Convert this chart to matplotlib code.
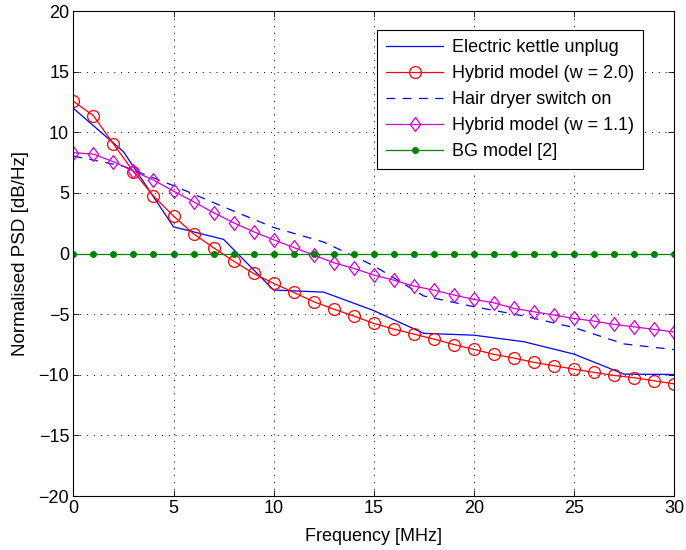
import numpy as np
import matplotlib
matplotlib.use("Agg")
import matplotlib.pyplot as plt
from matplotlib.path import Path

plt.rcParams['font.family'] = ['Liberation Sans', 'DejaVu Sans']

# Frequencies (MHz)
f_models = list(range(0, 31))
f_meas = [0, 2.5, 5, 7.5, 10, 12.5, 15, 17.5, 20, 22.5, 25, 27.5, 30]

kettle = [11.97, 8.4, 2.2, 1.17, -3.01, -3.18, -4.7, -6.58, -6.73, -7.27, -8.29, -9.94, -9.97]
hair_dryer = [8.04, 7.2, 5.6, 3.85, 2.15, 0.95, -1.0, -3.5, -4.38, -5.15, -6.1, -7.45, -7.92]

hybrid_w20 = [12.55, 11.37, 9.03, 6.75, 4.74, 3.09, 1.63, 0.48, -0.62, -1.64,
              -2.46, -3.2, -3.97, -4.58, -5.15, -5.76, -6.23, -6.64, -7.05, -7.5,
              -7.9, -8.31, -8.62, -8.97, -9.25, -9.53, -9.8, -10.05, -10.24, -10.49, -10.74]
hybrid_w11 = [8.32, 8.2, 7.57, 6.8, 6.06, 5.15, 4.27, 3.37, 2.54, 1.8,
              1.14, 0.5, -0.12, -0.76, -1.22, -1.77, -2.19, -2.68, -3.01, -3.42,
              -3.78, -4.06, -4.52, -4.8, -5.07, -5.35, -5.57, -5.84, -6.04, -6.25, -6.47]
bg_model = [0.0] * 31

xticks = [0, 5, 10, 15, 20, 25, 30]
yticks = [-20, -15, -10, -5, 0, 5, 10, 15, 20]

diamond = Path([(0, 1), (0.75, 0), (0, -1), (-0.75, 0), (0, 1)],
               [Path.MOVETO, Path.LINETO, Path.LINETO, Path.LINETO, Path.CLOSEPOLY])

fig = plt.figure(figsize=(6.86, 5.5), dpi=100)
ax = fig.add_axes([0.107, 0.098, 0.8755, 0.882])

ax.plot(f_meas, kettle, color='#0000ff', lw=0.9, label='Electric kettle unplug')
ax.plot(f_models, hybrid_w20, color='#ff0000', lw=0.9, marker='o', markersize=8.5,
        markerfacecolor='none', markeredgewidth=0.9, label='Hybrid model (w = 2.0)')
ax.plot(f_meas, hair_dryer, color='#0000ff', lw=0.9, dashes=(7, 6), label='Hair dryer switch on')
ax.plot(f_models, hybrid_w11, color='#d000d0', lw=0.9, marker=diamond, markersize=10,
        markerfacecolor='none', markeredgewidth=0.9, label='Hybrid model (w = 1.1)')
ax.plot(f_models, bg_model, color='#008000', lw=0.9, marker='o', markersize=4,
        markerfacecolor='#008000', markeredgecolor='#008000', label='BG model [2]')

ax.set_xlim(0, 30)
ax.set_ylim(-20, 20)
ax.set_xticks(xticks)
ax.set_yticks(yticks)
ax.tick_params(direction='in', top=True, right=True, labelsize=13, length=4, width=0.6, pad=3)
ax.grid(True, color='black', linestyle=(0, (1, 6)), linewidth=0.7)
for s in ax.spines.values():
    s.set_linewidth(0.8)

ax.set_xlabel('Frequency [MHz]', fontsize=13, labelpad=8)
ax.set_ylabel('Normalised PSD [dB/Hz]', fontsize=13.5, labelpad=7)

leg = ax.legend(loc='upper right', bbox_to_anchor=(0.948, 0.961), borderaxespad=0, fontsize=13,
                frameon=True, fancybox=False, edgecolor='black', framealpha=1,
                handlelength=3.2, borderpad=0.5, labelspacing=0.5, handletextpad=0.45)
leg.get_frame().set_linewidth(0.8)

fig.savefig('out.png', dpi=100)
